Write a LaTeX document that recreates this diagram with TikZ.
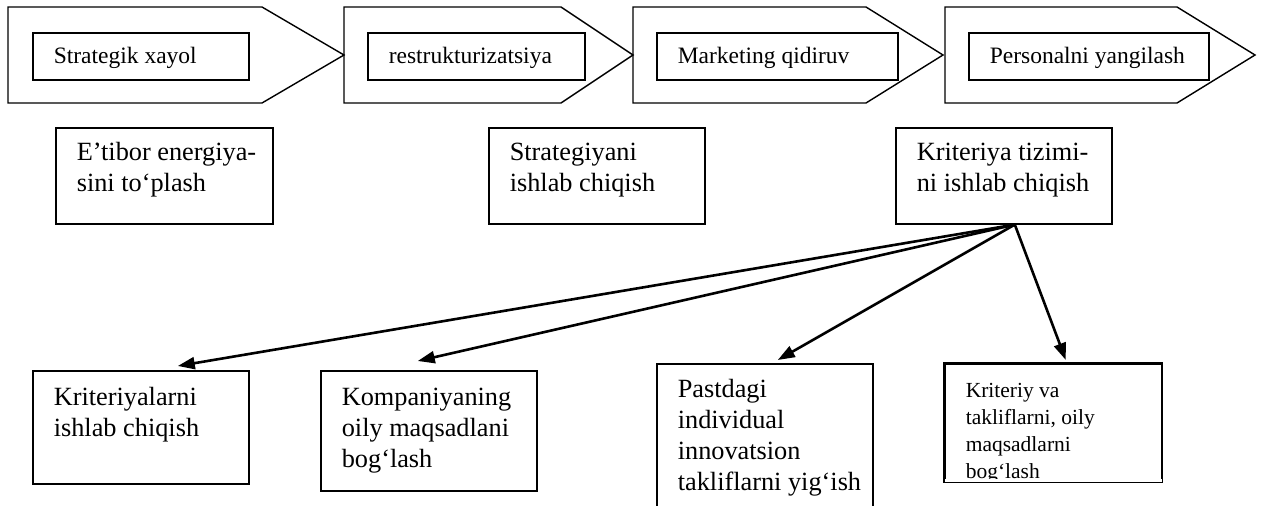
\documentclass[tikz,border=0pt]{standalone}
\usepackage{fontspec}
\setmainfont{Liberation Serif}
\usetikzlibrary{arrows.meta}
\tikzset{
  chev/.style={draw, line width=1.4pt, line join=miter},
  tbox/.style={draw, line width=1.6pt, inner sep=0pt, anchor=north west,
    font=\fontsize{26.3}{31}\selectfont},
  ibox/.style={tbox, font=\fontsize{23.5}{28}\selectfont},
  sbox/.style={tbox, font=\fontsize{21.5}{27}\selectfont},
  arr/.style={line width=2.6pt, -{Triangle[length=17pt,width=12pt]}},
}
\newcommand{\bxt}[4]{\parbox[c][#2][t]{#1}{\raggedright\setlength{\leftskip}{21pt}\rule{0pt}{#3}#4\par}}
\begin{document}
\begin{tikzpicture}[x=1pt,y=-1pt]
\useasboundingbox (0,0) rectangle (1262,506);
% chevrons
\draw[chev] (8,7) -- (262,7) -- (344,55) -- (262,103) -- (8,103) -- cycle;
\draw[chev] (344,7) -- (561,7) -- (633,55) -- (561,103) -- (344,103) -- cycle;
\draw[chev] (633,7) -- (866,7) -- (943,55) -- (866,103) -- (633,103) -- cycle;
\draw[chev] (945,7) -- (1177,7) -- (1255,55) -- (1177,103) -- (945,103) -- cycle;
% inner boxes
\node[ibox] (s1) at (32,32) {\bxt{216pt}{47pt}{31pt}{Strategik xayol}};
\node[ibox] (s2) at (367,32) {\bxt{217pt}{47pt}{31pt}{restrukturizatsiya}};
\node[ibox] (s3) at (656,32) {\bxt{241pt}{47pt}{31pt}{Marketing qidiruv}};
\node[ibox] (s4) at (968,32) {\bxt{240pt}{47pt}{31pt}{Personalni yangilash}};
% middle boxes
\node[tbox] (A) at (55,127) {\bxt{217pt}{96pt}{33pt}{E’tibor energiya-\\sini to‘plash}};
\node[tbox] (B) at (488,127) {\bxt{216pt}{96pt}{33pt}{Strategiyani\\ishlab chiqish}};
\node[tbox] (C) at (895,127) {\bxt{216pt}{96pt}{33pt}{Kriteriya tizimi-\\ni ishlab chiqish}};
% bottom boxes
\node[tbox] (D) at (32,370) {\bxt{216pt}{113pt}{35pt}{Kriteriyalarni\\ishlab chiqish}};
\node[tbox] (E) at (320,370) {\bxt{216pt}{120pt}{35pt}{Kompaniyaning\\oily maqsadlani\\bog‘lash}};
\node[tbox] (F) at (656,363) {\bxt{216pt}{165pt}{34pt}{Pastdagi\\individual\\innovatsion\\takliflarni yig‘ish}};
\begin{scope}
  \clip (940,360) rectangle (1165,478.5);
  \node[sbox] (G) at (944,363) {\bxt{217pt}{118pt}{34pt}{Kriteriy va\\takliflarni, oily\\maqsadlarni\\bog‘lash}};
\end{scope}
\draw[line width=1.6pt] (G.south west) rectangle (G.north east);
% arrows
\coordinate (o) at ([xshift=11pt]C.south);
\draw[arr] (o) -- ([xshift=37pt,yshift=4pt]D.north);
\draw[arr] (o) -- ([xshift=-11pt,yshift=9pt]E.north);
\draw[arr] (o) -- ([xshift=13pt,yshift=3pt]F.north);
\draw[arr] (o) -- ([xshift=12.5pt,yshift=3pt]G.north);
\end{tikzpicture}
\end{document}
